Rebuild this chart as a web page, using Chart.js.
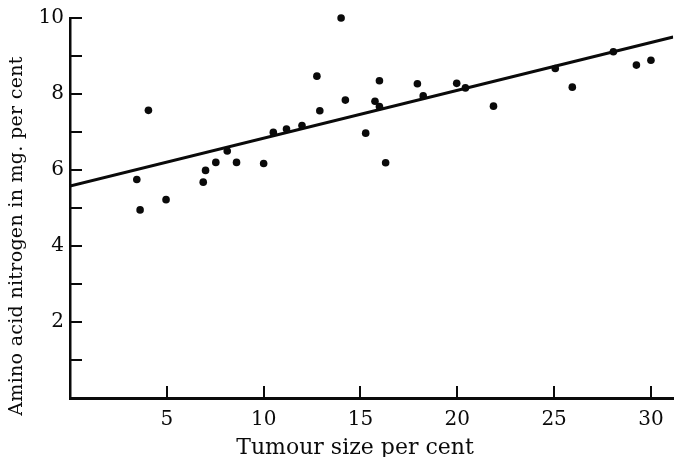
<!DOCTYPE html>
<html>
<head>
<meta charset="utf-8">
<script src="https://cdn.jsdelivr.net/npm/chart.js@4"></script>
<style>
  body { margin: 0; background: #fff; }
</style>
</head>
<body>
<canvas id="chart" width="677" height="457"></canvas>
<script>
// tumour size (%) against amino acid nitrogen (mg. per cent)
const tumourSize = [3.45, 3.62, 4.05, 4.96, 6.88, 7.0, 7.53, 8.12, 8.6, 10.0,
  10.5, 11.18, 11.98, 12.75, 12.9, 14.0, 14.22, 15.27, 15.75, 15.98, 15.98, 16.3,
  17.94, 18.24, 19.97, 20.42, 21.87, 25.06, 25.94, 28.06, 29.25, 30.0];
const aminoN = [5.75, 4.95, 7.57, 5.22, 5.68, 5.99, 6.2, 6.5, 6.2, 6.17,
  6.99, 7.08, 7.17, 8.47, 7.56, 10.0, 7.84, 6.97, 7.81, 8.35, 7.67, 6.19,
  8.27, 7.95, 8.28, 8.16, 7.68, 8.67, 8.18, 9.11, 8.76, 8.89];

// fitted line, read at both ends of the x axis
const fitX = [0, 31.15];
const fitY = [5.58, 9.5];

const xTicks = [5, 10, 15, 20, 25, 30];
const yTicks = [1, 2, 3, 4, 5, 6, 7, 8, 9, 10];
const yLabelled = [2, 4, 6, 8, 10];

const xTitle = 'Tumour size per cent';
const yTitle = 'Amino acid nitrogen in mg. per cent';

const serif = "'DejaVu Serif', 'Liberation Serif', serif";
const ink = '#0a0a0a';

// axis titles sit off-centre in the original, so draw them by hand
const axisTitles = {
  id: 'axisTitles',
  afterDraw(chart) {
    const ctx = chart.ctx;
    ctx.save();
    ctx.fillStyle = ink;
    ctx.font = '22px ' + serif;
    ctx.textAlign = 'center';
    ctx.textBaseline = 'alphabetic';
    ctx.fillText(xTitle, 355, 454);

    ctx.font = '19px ' + serif;
    ctx.translate(17, 236);
    ctx.rotate(-Math.PI / 2);
    ctx.textBaseline = 'middle';
    ctx.letterSpacing = '0.3px';
    ctx.fillText(yTitle, 0, 0);
    ctx.restore();
  }
};

const points = tumourSize.map((v, i) => ({ x: v, y: aminoN[i] }));
const fitLine = fitX.map((v, i) => ({ x: v, y: fitY[i] }));

new Chart(document.getElementById('chart'), {
  type: 'scatter',
  data: {
    datasets: [
      {
        data: points,
        backgroundColor: ink,
        borderColor: ink,
        pointRadius: 3.8,
        pointHoverRadius: 3.8,
        borderWidth: 0,
        clip: false
      },
      {
        type: 'line',
        data: fitLine,
        borderColor: ink,
        borderWidth: 3,
        pointRadius: 0,
        fill: false
      }
    ]
  },
  options: {
    responsive: false,
    animation: false,
    events: [],
    layout: { padding: { top: 18, left: 0, right: 0, bottom: 0 } },
    plugins: {
      legend: { display: false },
      tooltip: { enabled: false }
    },
    scales: {
      x: {
        type: 'linear',
        min: 0,
        max: 31.15,
        afterFit: s => { s.height = 59; s.paddingLeft = 0; s.paddingRight = 0; },
        afterBuildTicks: s => { s.ticks = xTicks.map(v => ({ value: v })); },
        border: { display: true, color: ink, width: 3 },
        grid: {
          drawOnChartArea: false,
          drawTicks: true,
          tickLength: -12,
          color: ink,
          lineWidth: 2
        },
        ticks: {
          padding: 22,
          color: ink,
          font: { family: serif, size: 20 },
          maxRotation: 0,
          autoSkip: false
        }
      },
      y: {
        type: 'linear',
        min: 0,
        max: 10,
        afterFit: s => { s.width = 70; s.paddingTop = 0; s.paddingBottom = 0; },
        afterBuildTicks: s => { s.ticks = yTicks.map(v => ({ value: v })); },
        border: { display: true, color: ink, width: 2.5 },
        grid: {
          drawOnChartArea: false,
          drawTicks: true,
          tickLength: -12,
          color: ink,
          lineWidth: 2
        },
        ticks: {
          padding: 18,
          color: ink,
          font: { family: serif, size: 20 },
          autoSkip: false,
          callback: v => yLabelled.includes(v) ? String(v) : ''
        }
      }
    }
  },
  plugins: [axisTitles]
});
</script>
</body>
</html>
